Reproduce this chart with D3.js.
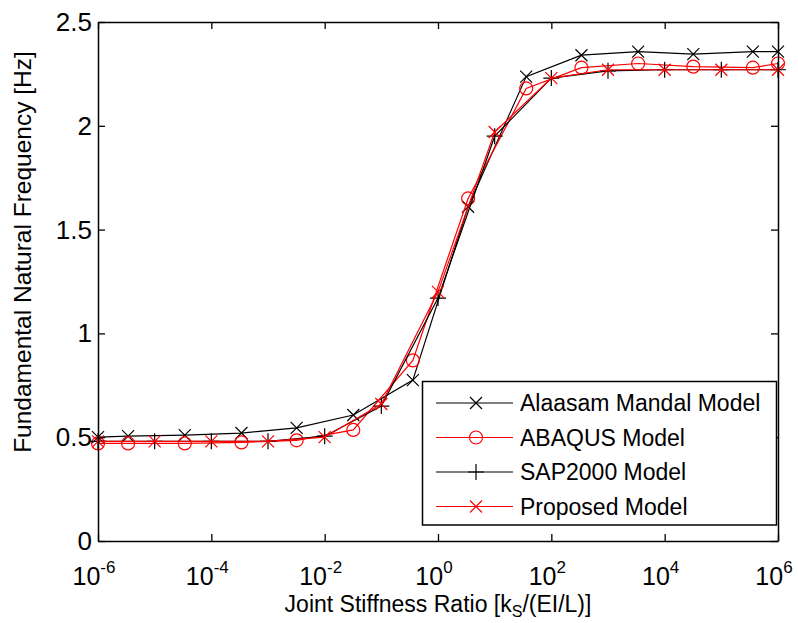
<html>
<head>
<style>
body
{
  margin:0;
  background:#fff;
}
text
{
  font-family:"Liberation Sans", Arial, sans-serif;
}
</style>
<script src="https://cdnjs.cloudflare.com/ajax/libs/d3/7.8.5/d3.min.js"></script>
</head>
<body>
<script>
// x values (joint stiffness ratio) and frequencies [Hz]
var xHalf = [1e-6, 3.4e-6, 3.4e-5, 3.4e-4, 3.2e-3, 3.2e-2, 0.36, 3.4, 36, 340, 3400, 32000, 360000, 1e6];
var alaasam = [0.50, 0.505, 0.51, 0.52, 0.545, 0.607, 0.775, 1.61, 2.237, 2.34, 2.357, 2.345, 2.357, 2.357];
var abaqus = [0.47, 0.47, 0.47, 0.475, 0.485, 0.535, 0.87, 1.65, 2.18, 2.28, 2.30, 2.285, 2.28, 2.30];

var xDecade = [1e-6, 1e-5, 1e-4, 1e-3, 1e-2, 1e-1, 1, 10, 100, 1e3, 1e4, 1e5, 1e6];
var sap2000 = [0.48, 0.48, 0.48, 0.48, 0.505, 0.65, 1.17, 1.95, 2.23, 2.265, 2.27, 2.27, 2.27];
var proposed = [0.48, 0.48, 0.48, 0.48, 0.50, 0.66, 1.20, 1.97, 2.23, 2.27, 2.27, 2.27, 2.27];

var xTickExp = [-6, -4, -2, 0, 2, 4, 6];
var yTicks = [0, 0.5, 1, 1.5, 2, 2.5];

var legendNames = ["Alaasam Mandal Model", "ABAQUS Model", "SAP2000 Model", "Proposed Model"];

var w = 798, h = 623;
var pL = 98, pR = 778, pT = 22, pB = 541;

var svg = d3.select("body")
.append("svg")
.attr("width", w)
.attr("height", h);

var x = d3.scaleLog().domain([1e-6, 1e6]).range([pL, pR]);
var y = d3.scaleLinear().domain([0, 2.5]).range([pB, pT]);

var series = [
  {name: legendNames[0], xs: xHalf, ys: alaasam, color: "#000", marker: "x"},
  {name: legendNames[1], xs: xHalf, ys: abaqus, color: "#f00", marker: "o"},
  {name: legendNames[2], xs: xDecade, ys: sap2000, color: "#000", marker: "+"},
  {name: legendNames[3], xs: xDecade, ys: proposed, color: "#f00", marker: "x"}
];

function drawMarker(g, type, cx, cy, color)
{
  if(type == "x")
  {
    var s = 6;
    g.append("path")
    .attr("d", "M" + (cx - s) + "," + (cy - s) + "L" + (cx + s) + "," + (cy + s) +
               "M" + (cx - s) + "," + (cy + s) + "L" + (cx + s) + "," + (cy - s))
    .attr("stroke", color).attr("stroke-width", 1.2).attr("fill", "none");
  }
  else if(type == "+")
  {
    var s = 8;
    g.append("path")
    .attr("d", "M" + (cx - s) + "," + cy + "L" + (cx + s) + "," + cy +
               "M" + cx + "," + (cy - s) + "L" + cx + "," + (cy + s))
    .attr("stroke", color).attr("stroke-width", 1.2).attr("fill", "none");
  }
  else if(type == "o")
  {
    g.append("circle")
    .attr("cx", cx).attr("cy", cy).attr("r", 6.5)
    .attr("stroke", color).attr("stroke-width", 1.2).attr("fill", "none");
  }
}

var line = d3.line()
.x(function(d){ return x(d[0]); })
.y(function(d){ return y(d[1]); });

var plot = svg.append("g");

series.forEach(function(s){
  var pts = s.xs.map(function(v, i){ return [v, s.ys[i]]; });
  var g = plot.append("g");
  g.append("path")
  .datum(pts)
  .attr("d", line)
  .attr("fill", "none")
  .attr("stroke", s.color)
  .attr("stroke-width", 1.2);
  pts.forEach(function(p){
    drawMarker(g, s.marker, x(p[0]), y(p[1]), s.color);
  });
});

// axes box with inward ticks
var tickVals = xTickExp.map(function(e){ return Math.pow(10, e); });

function styleAxis(g)
{
  g.selectAll("path.domain").attr("stroke", "#000").attr("stroke-width", 1.5);
  g.selectAll(".tick line").attr("stroke", "#000").attr("stroke-width", 1.3);
  g.selectAll(".tick text").remove();
}

svg.append("g").attr("transform", "translate(0," + pB + ")")
.call(d3.axisBottom(x).tickValues(tickVals).tickSizeInner(-7).tickSizeOuter(0))
.call(styleAxis);
svg.append("g").attr("transform", "translate(0," + pT + ")")
.call(d3.axisTop(x).tickValues(tickVals).tickSizeInner(-7).tickSizeOuter(0))
.call(styleAxis);
svg.append("g").attr("transform", "translate(" + pL + ",0)")
.call(d3.axisLeft(y).tickValues(yTicks).tickSizeInner(-7).tickSizeOuter(0))
.call(styleAxis);
svg.append("g").attr("transform", "translate(" + pR + ",0)")
.call(d3.axisRight(y).tickValues(yTicks).tickSizeInner(-7).tickSizeOuter(0))
.call(styleAxis);

// tick labels
svg.selectAll("text.ylab")
.data(yTicks)
.enter().append("text")
.attr("class", "ylab")
.attr("x", pL - 6)
.attr("y", function(d){ return y(d) + 9; })
.attr("text-anchor", "end")
.attr("font-size", 26)
.text(function(d){ return d; });

var xl = svg.selectAll("text.xlab")
.data(xTickExp)
.enter().append("text")
.attr("class", "xlab")
.attr("x", function(d){ return x(Math.pow(10, d)) - 4; })
.attr("y", 585)
.attr("text-anchor", "middle")
.attr("font-size", 25);
xl.append("tspan").text("10");
xl.append("tspan").attr("dy", -12).attr("font-size", 17).text(function(d){ return d; });

// axis titles
var xt = svg.append("text")
.attr("x", (pL + pR) / 2)
.attr("y", 612)
.attr("text-anchor", "middle")
.attr("font-size", 23);
xt.append("tspan").text("Joint Stiffness Ratio [k");
xt.append("tspan").attr("dy", 5).attr("font-size", 16).text("S");
xt.append("tspan").attr("dy", -5).text("/(EI/L)]");

svg.append("text")
.attr("transform", "translate(31,252) rotate(-90)")
.attr("text-anchor", "middle")
.attr("font-size", 24.5)
.text("Fundamental Natural Frequency [Hz]");

// legend
var lg = svg.append("g");
lg.append("rect")
.attr("x", 422.5).attr("y", 381.5)
.attr("width", 354).attr("height", 143.5)
.attr("fill", "#fff").attr("stroke", "#000").attr("stroke-width", 1.5);

series.forEach(function(s, i){
  var ly = 403 + i * 34.5;
  lg.append("line")
  .attr("x1", 436).attr("x2", 513).attr("y1", ly).attr("y2", ly)
  .attr("stroke", s.color).attr("stroke-width", 1.2);
  drawMarker(lg, s.marker, 476, ly, s.color);
  lg.append("text")
  .attr("x", 520).attr("y", ly + 8)
  .attr("font-size", 23)
  .text(s.name);
});
</script>
</body>
</html>
